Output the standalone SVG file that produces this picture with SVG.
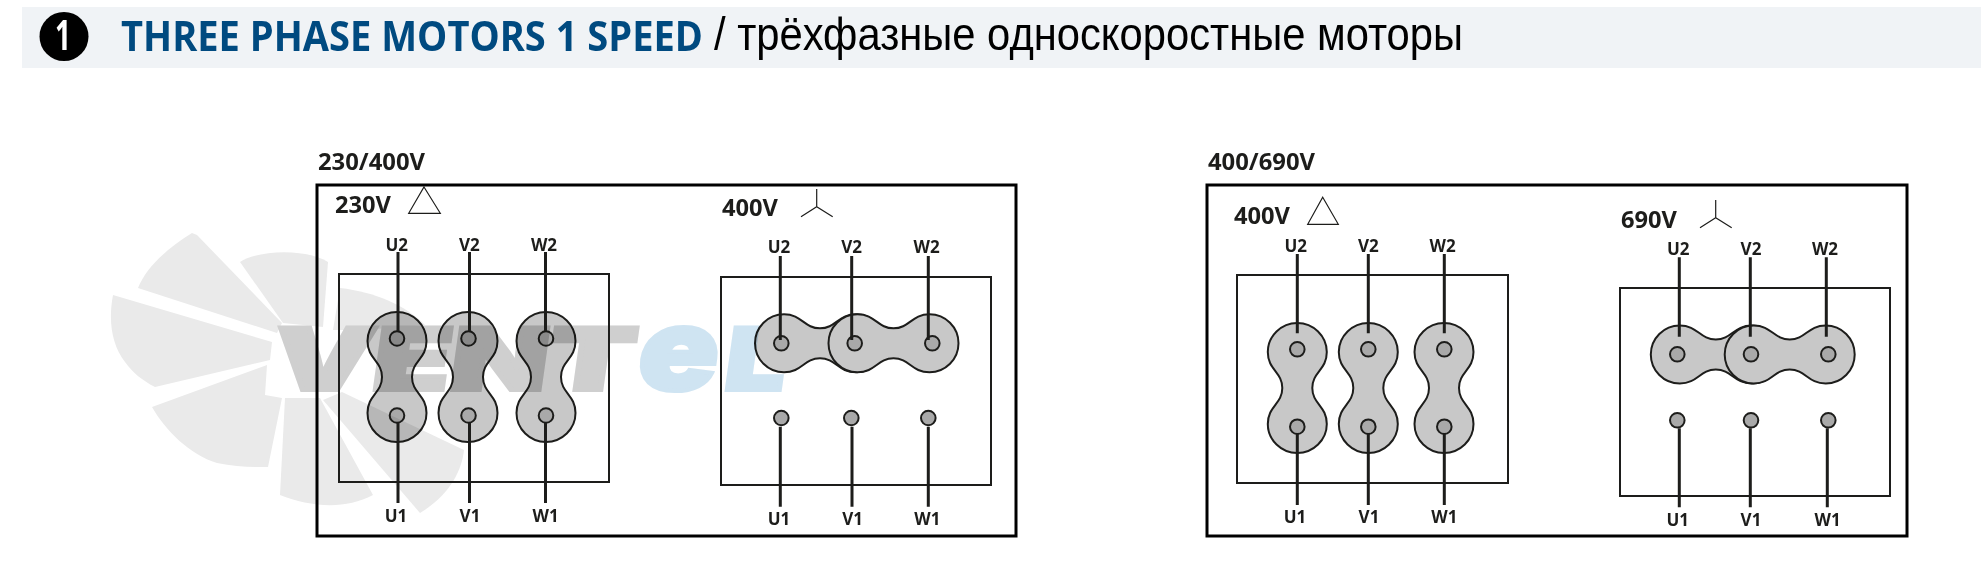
<svg xmlns="http://www.w3.org/2000/svg" width="1981" height="584" viewBox="0 0 1981 584">
<style>
text{font-family:"Open Sans","Liberation Sans",sans-serif;font-weight:700;fill:#1d1d1b}
.t{font-size:17px;text-anchor:middle}
.v{font-size:24px}
.outer{fill:none;stroke:#000;stroke-width:3}
.inner{fill:none;stroke:#1d1d1b;stroke-width:2}
.sym{fill:none;stroke:#1d1d1b;stroke-width:1.2}
.link{fill:#c8c8c8;stroke:#1d1d1b;stroke-width:2}
.pin{fill:#a9a9a9;stroke:#1d1d1b;stroke-width:2}
.mul{mix-blend-mode:multiply}
.wire{stroke:#1d1d1b;stroke-width:3;fill:none}
.blade{fill:#eaeaea}
.wm{font-family:Inter,"Liberation Sans",sans-serif;font-weight:900}
.wg{fill:#cfcfcf;stroke:#cfcfcf;stroke-width:4}
.wb{fill:#cfe4f2;stroke:#cfe4f2;stroke-width:4}
</style>
<defs>
<path id="lv" d="M0,-65C16,-65 29.5,-52 29.5,-36C29.5,-18 15,-16 15,0C15,16 29.5,18 29.5,36C29.5,52 16,65 0,65C-16,65 -29.5,52 -29.5,36C-29.5,18 -15,16 -15,0C-15,-16 -29.5,-18 -29.5,-36C-29.5,-52 -16,-65 0,-65Z"/>
<path id="lh" d="M-65,0C-65,-16 -52,-29 -36,-29C-18,-29 -16,-15 0,-15C16,-15 18,-29 36,-29C52,-29 65,-16 65,0C65,16 52,29 36,29C18,29 16,15 0,15C-16,15 -18,29 -36,29C-52,29 -65,16 -65,0Z"/>
</defs>

<g id="header">
<rect x="22" y="7" width="1959" height="61" fill="#f0f3f6"/>
<circle cx="64" cy="36.5" r="24.5" fill="#000"/>
<text x="63" y="50" font-size="42" text-anchor="middle" textLength="16" lengthAdjust="spacingAndGlyphs" style="fill:#fff">1</text>
<text x="121" y="50.500" font-size="41" textLength="582" lengthAdjust="spacingAndGlyphs" style="fill:#004a80">THREE PHASE MOTORS 1 SPEED</text>
<text x="714" y="49.500" font-size="46" textLength="749" lengthAdjust="spacingAndGlyphs" style="font-family:'Liberation Sans',sans-serif;font-weight:400;fill:#000">/ трёхфазные односкоростные моторы</text>
</g>

<g id="watermark">
<path class="blade" d="M192,233C165,250 146,268 138,288L277,333L282,323L197,235Z"/>
<path class="blade" d="M113,295C108,322 112,345 125,362C133,373 143,381 155,387L270,360L272,342Z"/>
<path class="blade" d="M152,407C165,430 190,455 217,463C235,467 252,467 268,467L282,398L265,395L267,365Z"/>
<path class="blade" d="M285,398L280,495C310,507 345,510 373,495L320,398Z"/>
<path class="blade" d="M323,400L420,513C450,495 462,470 464,450L342,392Z"/>
<path class="blade" d="M240,262C258,250 305,248 328,262L323,327L283,323Z"/>
<path class="blade" d="M340,288C375,292 405,305 425,325L363,330L333,330Z"/>
<g transform="translate(267,392) skewX(-8)">
<text class="wm wg" x="2" y="-2" font-size="86" textLength="362" lengthAdjust="spacingAndGlyphs">VENT</text>
</g>
<g transform="translate(630,392) skewX(-8)">
<text class="wm wb" x="4" y="-2" font-size="114" textLength="80" lengthAdjust="spacingAndGlyphs">e</text>
<text class="wm wb" x="92" y="-2" font-size="86" textLength="60" lengthAdjust="spacingAndGlyphs">L</text>
</g>
</g>

<g id="panel-230-400">
<text class="v" x="318" y="170" textLength="107" lengthAdjust="spacingAndGlyphs">230/400V</text>
<rect class="outer" x="317" y="185" width="699" height="351"/>
</g>
<g id="node-230-delta">
<rect class="inner" x="339" y="274" width="270" height="208"/>
<text class="v" x="335" y="213" textLength="56" lengthAdjust="spacingAndGlyphs">230V</text>
<path class="sym" d="M424,187L440.3,213.3H408.7Z"/>
<g class="mul">
<use href="#lv" class="link" x="397" y="377"/><use href="#lv" class="link" x="468" y="377"/><use href="#lv" class="link" x="546" y="377"/>
<circle class="pin" cx="397" cy="338.5" r="7.3"/><circle class="pin" cx="468.500" cy="338.5" r="7.3"/><circle class="pin" cx="546" cy="338.5" r="7.3"/>
<circle class="pin" cx="397" cy="415.500" r="7.3"/><circle class="pin" cx="468.500" cy="415.500" r="7.3"/><circle class="pin" cx="546" cy="415.500" r="7.3"/>
</g>
<text class="t" x="396.700" y="250.500">U2</text><text class="t" x="469.300" y="250.500">V2</text><text class="t" x="544" y="250.500">W2</text>
<text class="t" x="396" y="521.500">U1</text><text class="t" x="470" y="521.500">V1</text><text class="t" x="545.700" y="521.500">W1</text>
</g>
<g id="node-400-star">
<rect class="inner" x="721" y="277" width="270" height="208"/>
<text class="v" x="722" y="215.500" textLength="56" lengthAdjust="spacingAndGlyphs">400V</text>
<path class="sym" d="M816.700,189V206.700M801,216.700L816.700,206.700L832.700,216.700"/>
<g class="mul">
<use href="#lh" class="link" x="820" y="343.300"/><use href="#lh" class="link" x="893.500" y="343.300"/>
<circle class="pin" cx="781.300" cy="343.300" r="7.3"/><circle class="pin" cx="854.700" cy="343.300" r="7.3"/><circle class="pin" cx="932.300" cy="343.300" r="7.3"/>
<circle class="pin" cx="781.300" cy="418" r="7.3"/><circle class="pin" cx="851.300" cy="418" r="7.3"/><circle class="pin" cx="928.300" cy="418" r="7.3"/>
</g>
<text class="t" x="779" y="253">U2</text><text class="t" x="851.700" y="253">V2</text><text class="t" x="926.700" y="253">W2</text>
<text class="t" x="779" y="525">U1</text><text class="t" x="852.700" y="525">V1</text><text class="t" x="927.300" y="525">W1</text>
</g>

<g id="panel-400-690">
<text class="v" x="1208" y="170" textLength="107" lengthAdjust="spacingAndGlyphs">400/690V</text>
<rect class="outer" x="1207" y="185" width="700" height="351"/>
</g>
<g id="node-400-delta">
<rect class="inner" x="1237" y="275" width="271" height="208"/>
<text class="v" x="1234" y="224" textLength="56" lengthAdjust="spacingAndGlyphs">400V</text>
<path class="sym" d="M1322.700,197.300L1338.300,224.300H1307.700Z"/>
<g class="mul">
<use href="#lv" class="link" x="1297.300" y="388"/><use href="#lv" class="link" x="1368.300" y="388"/><use href="#lv" class="link" x="1444" y="388"/>
<circle class="pin" cx="1297.300" cy="349.300" r="7.3"/><circle class="pin" cx="1368.300" cy="349.300" r="7.3"/><circle class="pin" cx="1444.300" cy="349.300" r="7.3"/>
<circle class="pin" cx="1297.300" cy="426.700" r="7.3"/><circle class="pin" cx="1368.300" cy="426.700" r="7.3"/><circle class="pin" cx="1444.300" cy="426.700" r="7.3"/>
</g>
<text class="t" x="1295.700" y="251.500">U2</text><text class="t" x="1368.300" y="251.500">V2</text><text class="t" x="1442.700" y="251.500">W2</text>
<text class="t" x="1295" y="522.500">U1</text><text class="t" x="1369" y="522.500">V1</text><text class="t" x="1444.300" y="522.500">W1</text>
</g>
<g id="node-690-star">
<rect class="inner" x="1620" y="288" width="270" height="208"/>
<text class="v" x="1621" y="228.300" textLength="56" lengthAdjust="spacingAndGlyphs">690V</text>
<path class="sym" d="M1715.700,200V217.700M1700,227.700L1715.700,217.700L1731.700,227.700"/>
<g class="mul">
<use href="#lh" class="link" x="1715.800" y="354.500"/><use href="#lh" class="link" x="1789.700" y="354.500"/>
<circle class="pin" cx="1677.300" cy="354.300" r="7.3"/><circle class="pin" cx="1751" cy="354.300" r="7.3"/><circle class="pin" cx="1828.300" cy="354.300" r="7.3"/>
<circle class="pin" cx="1677.300" cy="420.300" r="7.3"/><circle class="pin" cx="1751" cy="420.300" r="7.3"/><circle class="pin" cx="1828.300" cy="420.300" r="7.3"/>
</g>
<text class="t" x="1678.300" y="255">U2</text><text class="t" x="1751" y="255">V2</text><text class="t" x="1825" y="255">W2</text>
<text class="t" x="1677.700" y="525.700">U1</text><text class="t" x="1751" y="525.700">V1</text><text class="t" x="1827.700" y="525.700">W1</text>
</g>

<g id="connectors" class="wire">
<path d="M398,252V331M469.500,252V331M545.500,252V331M398,423V503M469.500,423V503M545.500,423V503"/>
<path d="M780.300,256V340M851.700,256V340M928.300,256V340M780.300,426.700V506.700M852,426.700V506.700M928.300,426.700V506.700"/>
<path d="M1297.300,254V333.300M1368.300,254V333.300M1444.300,254V333.300M1297.300,433.300V505M1368.300,433.300V505M1444.300,433.300V505"/>
<path d="M1679.300,257.300V336.700M1750.300,257.300V336.700M1826.300,257.300V336.700M1679.300,428.300V507.300M1750.300,428.300V507.300M1827.300,428.300V507.300"/>
</g>
</svg>
